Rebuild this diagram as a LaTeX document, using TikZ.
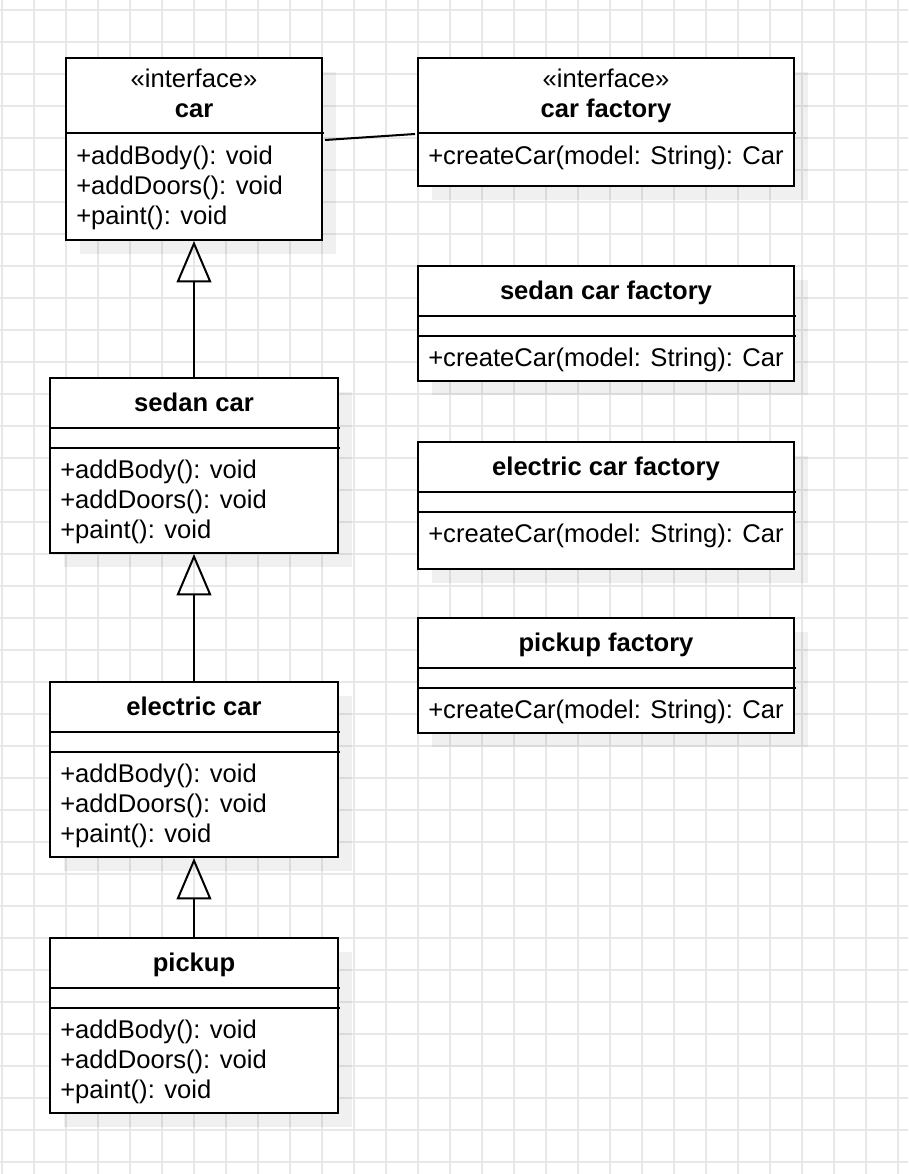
\documentclass[tikz,border=0pt]{standalone}
\usepackage{fontspec}
\setmainfont{Liberation Sans}
\usetikzlibrary{arrows.meta,fit,shadows}
\definecolor{gridc}{RGB}{232,232,232}
\tikzset{
  umlbox/.style={draw=black, line width=1.5pt, fill=white, inner sep=0pt,
    drop shadow={shadow xshift=10.5pt, shadow yshift=-10.5pt, fill=black, opacity=0.06}},
  ln/.style={draw=black, line width=1.5pt},
  ttl/.style={anchor=base, inner sep=0pt, font=\fontsize{19.2}{22}\selectfont\bfseries},
  ster/.style={anchor=base, inner sep=0pt, font=\fontsize{19.2}{22}\selectfont},
  mth/.style={anchor=base west, inner sep=0pt, font=\fontsize{19.2}{22}\selectfont},
  inh/.style={line width=1.5pt, -{Triangle[open, length=31pt, width=26pt]}},
  assoc/.style={line width=1.5pt}
}
\begin{document}
\begin{tikzpicture}[x=0.75pt, y=-0.75pt]
\useasboundingbox (0,0) rectangle (908,1174);
\fill[white] (0,0) rectangle (908,1174);
% grid
\foreach \i in {0,...,28} { \draw[gridc, line width=0.9pt] (2+32*\i,0) -- (2+32*\i,1174); }
\foreach \j in {0,...,36} { \draw[gridc, line width=0.9pt] (0,10+32*\j) -- (908,10+32*\j); }

% ---- interface car
\node[umlbox, fit={(66,58) (322,240)}] (car) {};
\draw[ln] (66,133) -- (324,133);
\node[ster] (carst) at (194,87.3) {«interface»};
\node[ttl] (carttl) at (194,117.3) {car};
\node[mth] (carm1) at (76,164) {+addBody(): void};
\node[mth] (carm2) at (76,194) {+addDoors(): void};
\node[mth] (carm3) at (76,224) {+paint(): void};

% ---- interface car factory
\node[umlbox, fit={(418,58) (794,186)}] (carf) {};
\draw[ln] (418,133) -- (796,133);
\node[ster] (carfst) at (606,87.3) {«interface»};
\node[ttl] (carfttl) at (606,117.3) {car factory};
\node[mth] (carfm1) at (428,164) {+createCar(model: String): Car};

% ---- sedan car factory
\node[umlbox, fit={(418,266) (794,381)}] (sedf) {};
\draw[ln] (418,316) -- (796,316);
\draw[ln] (418,335.5) -- (796,335.5);
\node[ttl] (sedfttl) at (606,299.5) {sedan car factory};
\node[mth] (sedfm1) at (428,366.5) {+createCar(model: String): Car};

% ---- electric car factory
\node[umlbox, fit={(418,442) (794,569)}] (elef) {};
\draw[ln] (418,492) -- (796,492);
\draw[ln] (418,511.5) -- (796,511.5);
\node[ttl] (elefttl) at (606,475.5) {electric car factory};
\node[mth] (elefm1) at (428,542.5) {+createCar(model: String): Car};

% ---- pickup factory
\node[umlbox, fit={(418,618) (794,733)}] (pickf) {};
\draw[ln] (418,668) -- (796,668);
\draw[ln] (418,687.5) -- (796,687.5);
\node[ttl] (pickfttl) at (606,651.5) {pickup factory};
\node[mth] (pickfm1) at (428,718.5) {+createCar(model: String): Car};

% ---- sedan car
\node[umlbox, fit={(50,378) (338,553)}] (sed) {};
\draw[ln] (50,428) -- (340,428);
\draw[ln] (50,447.5) -- (340,447.5);
\node[ttl] (sedttl) at (194,411.7) {sedan car};
\node[mth] (sedm1) at (60,478.3) {+addBody(): void};
\node[mth] (sedm2) at (60,508.3) {+addDoors(): void};
\node[mth] (sedm3) at (60,538.3) {+paint(): void};

% ---- electric car
\node[umlbox, fit={(50,682) (338,857)}] (ele) {};
\draw[ln] (50,732) -- (340,732);
\draw[ln] (50,751.5) -- (340,751.5);
\node[ttl] (elettl) at (194,715.7) {electric car};
\node[mth] (elem1) at (60,782.3) {+addBody(): void};
\node[mth] (elem2) at (60,812.3) {+addDoors(): void};
\node[mth] (elem3) at (60,842.3) {+paint(): void};

% ---- pickup
\node[umlbox, fit={(50,938) (338,1113)}] (pick) {};
\draw[ln] (50,988) -- (340,988);
\draw[ln] (50,1007.5) -- (340,1007.5);
\node[ttl] (pickttl) at (194,971.7) {pickup};
\node[mth] (pickm1) at (60,1038.3) {+addBody(): void};
\node[mth] (pickm2) at (60,1068.3) {+addDoors(): void};
\node[mth] (pickm3) at (60,1098.3) {+paint(): void};

% ---- connectors
\coordinate (ya) at (0,140);
\coordinate (yb) at (0,134);
\draw[assoc] ([xshift=1.5pt]car.east |- ya) -- ([xshift=-1.5pt]carf.west |- yb);
\draw[inh] (sed.north) -- (car.south);
\draw[inh] (ele.north) -- (sed.south);
\draw[inh] (pick.north) -- (ele.south);
\end{tikzpicture}
\end{document}
